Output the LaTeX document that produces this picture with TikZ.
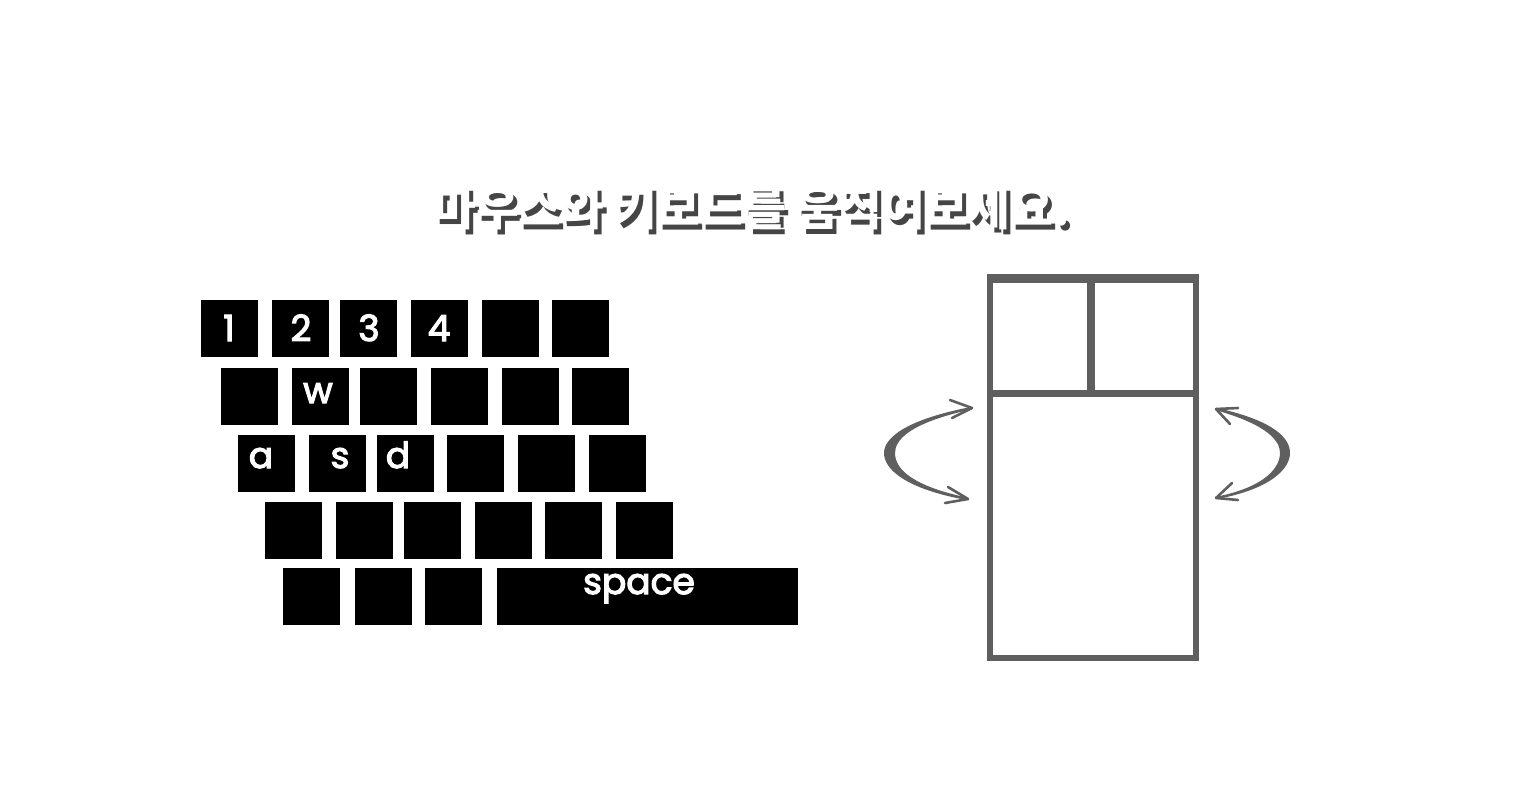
\documentclass[tikz,border=0pt]{standalone}
\usepackage{fontspec}
\setmainfont{Poppins}
\newfontfamily\keyfont[FakeBold=3.2]{Poppins}
\newfontfamily\kr{Noto Sans CJK KR}
\begin{document}
\begin{tikzpicture}[x=1pt,y=-1pt,
  key/.style={fill=black,draw=none,minimum width=57pt,minimum height=56.5pt,inner sep=0pt,anchor=north west},
  keylabel/.style={text=white,anchor=base,inner sep=0pt,font=\keyfont\fontsize{36}{36}\selectfont},
  titlefont/.style={inner sep=0pt,font=\kr\bfseries\fontsize{46.5}{46.5}\selectfont},
  mousegray/.style={draw=mgray,line width=6.5pt},
  barb/.style={draw=mgray,line width=2.6pt,line join=round,line cap=round}]
\definecolor{mgray}{HTML}{5F5F5F}
\definecolor{shadow}{HTML}{454545}
\useasboundingbox (0,0) rectangle (1515,811);
\fill[white] (0,0) rectangle (1515,811);
% title with shadow
\node (titleshadow) [titlefont,text=shadow] at (755.5,213) {마우스와 키보드를 움직여보세요.};
\node (title) [titlefont,text=white] at (751.5,208) {마우스와 키보드를 움직여보세요.};
% row 1
\node[key] (r1a) at (201,300) {};
\node[key] (r1b) at (272,300) {};
\node[key] (r1c) at (340,300) {};
\node[key] (r1d) at (411,300) {};
\node[key] (r1e) at (482,300) {};
\node[key] (r1f) at (552,300) {};
% row 2
\node[key] (r2a) at (221,368) {};
\node[key] (r2b) at (292,368) {};
\node[key] (r2c) at (360,368) {};
\node[key] (r2d) at (431,368) {};
\node[key] (r2e) at (502,368) {};
\node[key] (r2f) at (572,368) {};
% row 3
\node[key] (r3a) at (238,435) {};
\node[key] (r3b) at (309,435) {};
\node[key] (r3c) at (377,435) {};
\node[key] (r3d) at (447,435) {};
\node[key] (r3e) at (518,435) {};
\node[key] (r3f) at (589,435) {};
% row 4
\node[key] (r4a) at (265,502) {};
\node[key] (r4b) at (336,502) {};
\node[key] (r4c) at (404,502) {};
\node[key] (r4d) at (475,502) {};
\node[key] (r4e) at (545,502) {};
\node[key] (r4f) at (616,502) {};
% row 5
\node[key] (r5a) at (283,568) {};
\node[key] (r5b) at (355,568) {};
\node[key] (r5c) at (425,568) {};
\node[key,minimum width=301pt] (r5space) at (497,568) {};
% labels
\node[keylabel] (l1) at (229,341) {1};
\node[keylabel] (l2) at (301,341) {2};
\node[keylabel] (l3) at (369,341) {3};
\node[keylabel] (l4) at (439,341) {4};
\node[keylabel] (lw) at (318,403) {w};
\node[keylabel] (la) at (261,468) {a};
\node[keylabel] (ls) at (340,468) {s};
\node[keylabel] (ld) at (398,468) {d};
\node[keylabel] (lspace) at (639,594) {space};
% mouse
\coordinate (mtl) at (990,278);
\coordinate (mbr) at (1196,658);
\draw[mousegray] (mtl) rectangle (mbr);
\fill[mgray] (986.75,274) rectangle (1199.25,283);
\coordinate (hl) at (990,393.5);
\coordinate (hr) at (1196,393.5);
\draw[draw=mgray,line width=7pt] (hl) -- (hr);
\coordinate (vt) at (1091,278);
\coordinate (vb) at (1091,393.5);
\draw[draw=mgray,line width=7.5pt] (vt) -- (vb);
% left rotation arrow
\fill[mgray] (972,406.8) .. controls (903,420) and (884,439) .. (884,453)
  .. controls (884,469) and (905,489) .. (968,500.2)
  -- (968,497.8) .. controls (912,486) and (895,469) .. (895,453)
  .. controls (895,440) and (909,423) .. (972,409.2) -- cycle;
\coordinate (lt) at (972,408);
\coordinate (lb) at (968,499);
\draw[barb] (950,400) -- (lt) -- (952,418);
\draw[barb] (948,487) -- (lb) -- (945,503);
% right rotation arrow
\fill[mgray] (1216,407.8) .. controls (1276,421) and (1290,439) .. (1290,453)
  .. controls (1290,468) and (1272,489) .. (1216,499.2)
  -- (1216,496.8) .. controls (1266,487) and (1280,467) .. (1280,453)
  .. controls (1280,441) and (1268,425) .. (1216,410.2) -- cycle;
\coordinate (rt) at (1216,409);
\coordinate (rb) at (1216,498);
\draw[barb] (1238,408) -- (rt) -- (1230,424);
\draw[barb] (1238,500) -- (rb) -- (1232,483);
\end{tikzpicture}
\end{document}
